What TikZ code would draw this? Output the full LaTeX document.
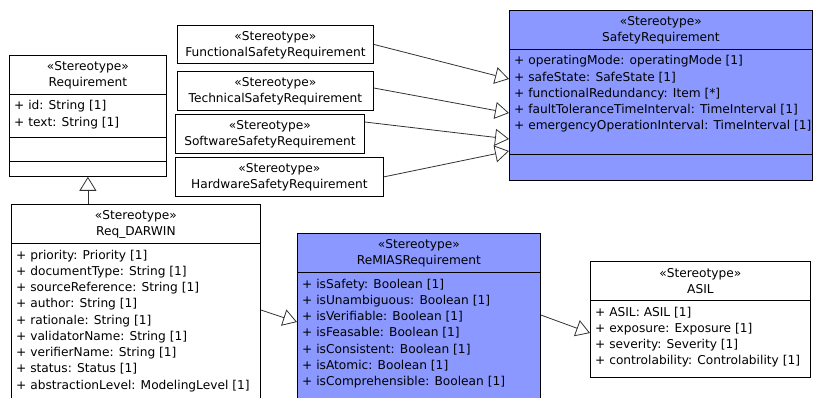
\documentclass[tikz,border=0pt]{standalone}
\usepackage{fontspec}
\setmainfont{DejaVu Sans}
\usetikzlibrary{arrows.meta}
\definecolor{stereoblue}{RGB}{138,152,255}
\definecolor{linkgray}{RGB}{50,50,50}
\tikzset{
  cls/.style={draw=black, line width=0.8pt, inner sep=0pt, anchor=north west},
  bluecls/.style={cls, fill=stereoblue},
  hdr/.style={anchor=base, inner sep=0pt, font=\fontsize{12.2}{14}\selectfont},
  attr/.style={anchor=base west, inner sep=0pt, font=\fontsize{12.2}{14}\selectfont},
  divider/.style={draw=black, line width=0.8pt},
  genlink/.style={draw=linkgray, line width=0.8pt,
    -{Triangle[length=14pt, width=17pt, fill=white, line width=0.8pt]}},
}
\newcommand\umlhead[2]{%
  \node[hdr] (#1-st) at ([yshift=-16pt]#1.north) {«Stereotype»};
  \node[hdr] (#1-nm) at ([yshift=-32pt]#1.north) {#2};}
\newcommand\umldiv[2]{%
  \draw[divider] ([yshift=-#2pt]#1.north west) -- ([yshift=-#2pt]#1.north east);}
\newcommand\umlattrs[2]{%
  \foreach \t [count=\i] in {#2} {
    \pgfmathsetmacro\yy{-(39+16+16.25*(\i-1))}
    \node[attr] (#1-a\i) at ([xshift=5pt,yshift=\yy pt]#1.north west) {\t};
  }}
\begin{document}
\begin{tikzpicture}[x=1pt,y=1pt]
\useasboundingbox (0,0) rectangle (814,-398);
\clip (0,0) rectangle (814,-398);

% Requirement
\node[cls, minimum width=157pt, minimum height=121pt] (req) at (9,-55) {};
\umlhead{req}{Requirement}
\umldiv{req}{39}
\umldiv{req}{82}
\umldiv{req}{106}
\umlattrs{req}{{+ id: String [1]},{+ text: String [1]}}

% Req_DARWIN
\node[cls, minimum width=249pt, minimum height=200pt] (darwin) at (11,-204) {};
\umlhead{darwin}{Req\_DARWIN}
\umldiv{darwin}{39}
\umlattrs{darwin}{{+ priority: Priority [1]},{+ documentType: String [1]},{+ sourceReference: String [1]},{+ author: String [1]},{+ rationale: String [1]},{+ validatorName: String [1]},{+ verifierName: String [1]},{+ status: Status [1]},{+ abstractionLevel: ModelingLevel [1]}}

% Stereotype-only boxes
\node[cls, minimum width=196pt, minimum height=38pt] (fsr) at (177,-25) {};
\umlhead{fsr}{FunctionalSafetyRequirement}
\node[cls, minimum width=196pt, minimum height=39pt] (tsr) at (177,-71) {};
\umlhead{tsr}{TechnicalSafetyRequirement}
\node[cls, minimum width=189pt, minimum height=39pt] (ssr) at (175,-114) {};
\umlhead{ssr}{SoftwareSafetyRequirement}
\node[cls, minimum width=208pt, minimum height=39pt] (hsr) at (175,-157) {};
\umlhead{hsr}{HardwareSafetyRequirement}

% SafetyRequirement
\node[bluecls, minimum width=303pt, minimum height=170pt] (sr) at (509,-10) {};
\umlhead{sr}{SafetyRequirement}
\umldiv{sr}{39}
\umldiv{sr}{144}
\umlattrs{sr}{{+ operatingMode: operatingMode [1]},{+ safeState: SafeState [1]},{+ functionalRedundancy: Item [*]},{+ faultToleranceTimeInterval: TimeInterval [1]},{+ emergencyOperationInterval: TimeInterval [1]}}

% ReMIASRequirement
\node[bluecls, minimum width=243pt, minimum height=170pt] (remias) at (297,-233) {};
\umlhead{remias}{ReMIASRequirement}
\umldiv{remias}{39}
\umlattrs{remias}{{+ isSafety: Boolean [1]},{+ isUnambiguous: Boolean [1]},{+ isVerifiable: Boolean [1]},{+ isFeasable: Boolean [1]},{+ isConsistent: Boolean [1]},{+ isAtomic: Boolean [1]},{+ isComprehensible: Boolean [1]}}

% ASIL
\node[cls, minimum width=220pt, minimum height=116pt] (asil) at (590,-261) {};
\umlhead{asil}{ASIL}
\umldiv{asil}{39}
\umlattrs{asil}{{+ ASIL: ASIL [1]},{+ exposure: Exposure [1]},{+ severity: Severity [1]},{+ controlability: Controlability [1]}}

% Generalizations
\draw[genlink] (req.south |- darwin.north) -- (req.south);
\draw[genlink] (fsr.east) -- ([yshift=-69pt]sr.north west);
\draw[genlink] ([yshift=-17pt]tsr.north east) -- ([yshift=-103pt]sr.north west);
\draw[genlink] ([yshift=-8pt]ssr.north east) -- ([yshift=-129pt]sr.north west);
\draw[genlink] (hsr.east) -- ([yshift=-141pt]sr.north west);
\draw[genlink] ([yshift=-106pt]darwin.north east) -- ([yshift=-89pt]remias.north west);
\draw[genlink] ([yshift=-82pt]remias.north east) -- ([yshift=-72pt]asil.north west);
\end{tikzpicture}
\end{document}
